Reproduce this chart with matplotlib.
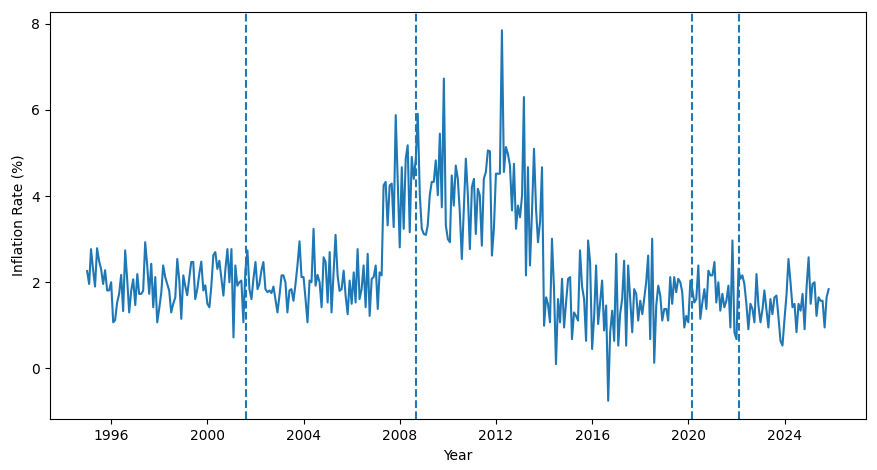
import pandas as pd
import matplotlib
matplotlib.use("Agg")
import matplotlib.pyplot as plt
import matplotlib.dates as mdates

# monthly inflation values, from Jan 1995 on
tramo_1995 = [2.26, 1.96, 2.77, 2.3, 1.9, 2.79, 2.5, 2.31, 1.96, 2.28, 1.81, 1.81, 2.0, 1.07, 1.12, 1.53,
              1.73, 2.17, 1.33, 2.74, 2.05, 1.30, 1.81, 2.07, 1.47, 2.19, 1.73, 1.73, 1.8, 2.93, 2.4]
tramo_1997 = [1.73, 2.43, 1.42, 2.12, 1.07, 1.4, 1.77, 2.39, 2.12, 1.96, 1.8, 1.30, 1.5, 1.65, 2.54, 2.04,
              1.15, 2.16, 1.9, 1.70, 2.1, 2.47, 2.47, 1.61, 1.84, 2.2, 2.48, 1.81, 1.93, 1.50, 1.42, 1.9]
tramo_2000 = [2.63, 2.70, 2.31, 2.50, 2.1, 1.69, 2.3, 2.77, 2.0, 2.77, 0.72, 2.39, 1.92, 2.0, 2.04, 1.07,
              2.28, 2.74, 1.84, 1.61, 2.08, 2.47, 1.84, 1.96, 2.27, 2.47, 1.84, 1.77, 1.81, 1.75, 1.9, 1.6]
tramo_2002 = [1.30, 1.7, 2.16, 2.16, 2.0, 1.30, 1.81, 1.84, 1.57, 1.96, 2.4, 2.95, 2.12, 2.12, 1.6, 1.07,
              2.04, 2.0, 3.24, 1.92, 2.17, 2.0, 1.42, 2.58, 2.47, 1.53, 2.70, 1.30, 2.2, 3.10, 2.16, 1.8]
tramo_2005 = [1.84, 2.27, 1.69, 1.26, 2.04, 1.50, 2.23, 1.53, 2.77, 1.61, 1.84, 2.39, 1.42, 2.66, 1.22,
              2.08, 2.12, 2.39, 1.38, 2.23, 2.16, 4.25, 4.33, 3.32, 4.25, 4.29, 3.28, 5.88]
tramo_2008 = [4.4, 2.81, 4.67, 3.24, 4.87, 5.18, 3.16, 4.91, 4.40, 4.87, 5.91, 4.02, 3.24, 3.12, 3.1, 3.32,
              4.02, 4.33, 4.33, 4.83, 4.02, 5.45, 3.74, 6.73, 3.32, 3.0, 2.93, 4.48, 3.78, 4.71, 4.40, 3.63, 2.54]
tramo_2010 = [3.7, 4.87, 4.02, 2.77, 4.21, 4.40, 3.12, 4.17, 4.02, 2.85, 4.40, 4.56, 5.06, 5.04, 2.62, 3.24,
              4.52, 4.52, 4.52, 7.85, 4.56, 5.14, 4.98, 4.71, 3.67, 4.75, 3.24, 3.78, 3.51, 4.02, 6.30]
tramo_2013 = [2.16, 4.67, 2.39, 3.6, 5.10, 3.71, 2.93, 3.40, 4.67, 0.99, 1.65, 1.50, 1.07, 3.01, 1.84, 0.10,
              1.61, 1.07, 2.08, 0.95, 1.53, 2.08, 2.12, 0.68, 1.30, 1.22, 1.11, 2.74, 1.9, 1.61, 0.64, 2.97]
tramo_2016 = [2.47, 0.45, 1.22, 2.39, 1.03, 1.53, 2.04, 0.88, 1.46, -0.75, 0.84, 1.34, 0.64, 2.66, 0.53, 1.26,
              1.61, 2.50, 0.53, 2.39, 1.61, 0.84, 1.84, 1.73, 1.11, 1.57, 1.26, 1.61, 2.0, 2.62, 0.68]
tramo_2018 = [3.01, 0.13, 1.46, 1.92, 1.69, 1.11, 1.38, 1.38, 1.11, 2.12, 1.50, 2.12, 1.77, 2.08, 2.0, 1.77,
              0.95, 1.22, 1.07, 2.04, 1.84, 1.53, 1.61, 2.39, 1.15, 1.53, 1.84, 1.38, 2.27, 2.16, 2.16, 2.47, 1.53]
tramo_2021 = [2.0, 1.34, 1.73, 1.42, 1.57, 1.92, 0.95, 2.97, 0.84, 0.68, 2.31, 2.08, 2.16, 1.96, 1.50, 0.91,
              1.50, 1.38, 1.07, 2.19, 1.46, 1.07, 1.38, 1.81, 1.38, 0.95, 1.61, 1.26, 1.65, 1.69, 1.19, 0.64]
tramo_2024 = [0.53, 1.15, 1.73, 2.54, 2.0, 1.42, 1.50, 0.84, 1.50, 1.34, 1.73, 0.91, 1.88, 2.58, 1.50, 1.96,
              2.0, 1.22, 1.65, 1.57, 1.57, 0.95, 1.65, 1.84]

inflacion = (tramo_1995 + tramo_1997 + tramo_2000 + tramo_2002 + tramo_2005 + tramo_2008
             + tramo_2010 + tramo_2013 + tramo_2016 + tramo_2018 + tramo_2021 + tramo_2024)
fechas = pd.date_range("1995-01-01", periods=len(inflacion), freq="MS")

# fechas de los eventos marcados con lineas discontinuas
eventos = ["2001-08-15", "2008-09-01", "2020-03-01", "2022-02-15"]

fig, ax = plt.subplots(figsize=(8.78, 4.70), dpi=100)

ax.plot(fechas, inflacion)

for e in eventos:
    ax.axvline(pd.Timestamp(e), linestyle="--")

ax.xaxis.set_major_locator(mdates.YearLocator(4))
ax.xaxis.set_major_formatter(mdates.DateFormatter("%Y"))

ax.set_xlabel("Year")
ax.set_ylabel("Inflation Rate (%)")

plt.subplots_adjust(left=0.057, right=0.986, top=0.975, bottom=0.108)
plt.savefig("out.png")
